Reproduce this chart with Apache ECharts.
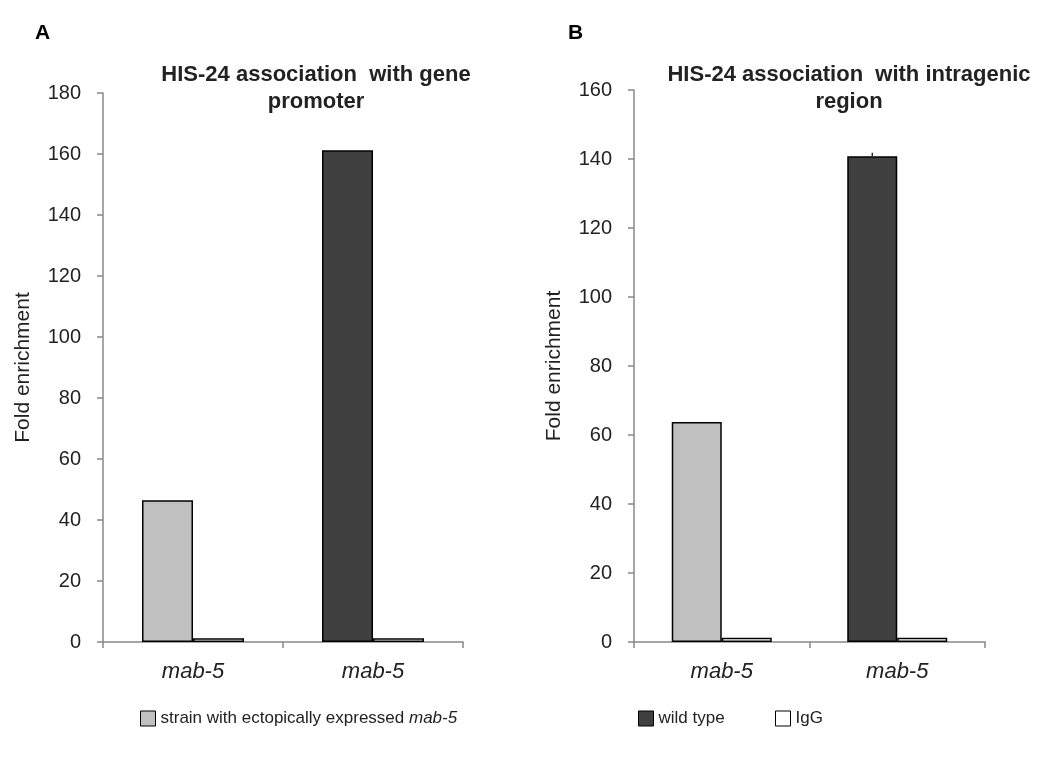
<!DOCTYPE html>
<html>
<head>
<meta charset="utf-8">
<script src="https://cdn.jsdelivr.net/npm/echarts@6/dist/echarts.min.js"></script>
<style>html,body{margin:0;padding:0;background:#fff}#c{width:1061px;height:758px}</style>
</head>
<body>
<div id="c"></div>
<script>
// ---- data ----
const categories = ['mab-5', 'mab-5'];
const seriesNames = ['strain with ectopically expressed mab-5', 'wild type', 'IgG'];
const ectopicA = [46.5, null];
const wildA = [null, 161.2];
const iggA = [1.2, 1.2];
const ectopicB = [63.8, null];
const wildB = [null, 140.8];
const iggB = [1.2, 1.2];
const wildErrB = [null, 1.0];
const yTicksA = {min: 0, max: 180, interval: 20};
const yTicksB = {min: 0, max: 160, interval: 20};

const FONT = '"Liberation Sans", Arial, sans-serif';
const colors = {ectopic: '#c0c0c0', wild: '#404040', igg: '#ffffff'};

function yAxis(grid, t) {
  return {
    type: 'value', gridIndex: grid, min: t.min, max: t.max, interval: t.interval,
    name: 'Fold enrichment', nameLocation: 'middle', nameGap: 69, nameRotate: 90,
    nameTextStyle: {fontFamily: FONT, fontSize: 21, color: '#222'},
    axisLine: {show: true, lineStyle: {color: '#888', width: 1.5}},
    axisTick: {show: true, inside: false, length: 6, lineStyle: {color: '#888', width: 1.5}},
    axisLabel: {fontFamily: FONT, fontSize: 20, color: '#222', margin: 22},
    splitLine: {show: false}
  };
}
function xAxis(grid) {
  return {
    type: 'category', gridIndex: grid, data: categories,
    axisLine: {show: true, lineStyle: {color: '#888', width: 1.5}},
    axisTick: {show: true, length: 6, lineStyle: {color: '#888', width: 1.5}},
    axisLabel: {fontFamily: FONT, fontSize: 22, fontStyle: 'italic', color: '#222', margin: 19}
  };
}
function bars(grid, ect, wild, igg, bw) {
  const base = {type: 'bar', xAxisIndex: grid, yAxisIndex: grid, barWidth: bw, barGap: '0%', animation: false};
  return [
    Object.assign({}, base, {name: seriesNames[0], stack: 's' + grid, data: ect,
      itemStyle: {color: colors.ectopic, borderColor: '#000', borderWidth: 1.5}}),
    Object.assign({}, base, {name: seriesNames[1], stack: 's' + grid, data: wild,
      itemStyle: {color: colors.wild, borderColor: '#000', borderWidth: 1.5}}),
    Object.assign({}, base, {name: seriesNames[2], data: igg,
      itemStyle: {color: colors.igg, borderColor: '#000', borderWidth: 1.5}})
  ];
}

const errData = wildB.map((v, i) => v == null ? null : [i, v, wildErrB[i]]).filter(d => d);

const legendText = {fontFamily: FONT, fontSize: 17, color: '#222',
  rich: {n: {fontFamily: FONT, fontSize: 17, color: '#222'}, i: {fontFamily: FONT, fontSize: 17, color: '#222', fontStyle: 'italic'}}};
function legend(name, left, color) {
  return {
    left: left, top: 705, itemWidth: 15, itemHeight: 15, icon: 'rect', selectedMode: false,
    data: [{name: name, itemStyle: {color: color, borderColor: '#000', borderWidth: 1}}],
    textStyle: legendText, itemGap: 3,
    formatter: n => n === seriesNames[0] ? '{n|strain with ectopically expressed }{i|mab-5}' : n
  };
}

const chart = echarts.init(document.getElementById('c'), null, {renderer: 'canvas'});
chart.setOption({
  animation: false,
  backgroundColor: '#fff',
  title: [
    {text: 'A', left: 30, top: 18, textStyle: {fontFamily: FONT, fontSize: 21, fontWeight: 'bold', color: '#000'}},
    {text: 'B', left: 563, top: 18, textStyle: {fontFamily: FONT, fontSize: 21, fontWeight: 'bold', color: '#000'}},
    {text: 'HIS-24 association  with gene\npromoter', left: 311, top: 56, textAlign: 'center',
      textStyle: {fontFamily: FONT, fontSize: 22, fontWeight: 'bold', color: '#222', lineHeight: 27}},
    {text: 'HIS-24 association  with intragenic\nregion', left: 844, top: 56, textAlign: 'center',
      textStyle: {fontFamily: FONT, fontSize: 22, fontWeight: 'bold', color: '#222', lineHeight: 27}}
  ],
  legend: [
    legend(seriesNames[0], 135, colors.ectopic),
    legend(seriesNames[1], 633, colors.wild),
    legend(seriesNames[2], 770, colors.igg)
  ],
  grid: [
    {left: 103, top: 93, width: 360, height: 549, containLabel: false},
    {left: 634, top: 90, width: 351, height: 552, containLabel: false}
  ],
  xAxis: [xAxis(0), xAxis(1)],
  yAxis: [yAxis(0, yTicksA), yAxis(1, yTicksB)],
  series: [
    ...bars(0, ectopicA, wildA, iggA, 51),
    ...bars(1, ectopicB, wildB, iggB, 50),
    {
      type: 'custom', name: 'errB', xAxisIndex: 1, yAxisIndex: 1, data: errData, z: 5,
      renderItem: function (params, api) {
        const x = api.value(0), v = api.value(1), e = api.value(2);
        const p0 = api.coord([x, v]);
        const p1 = api.coord([x, v + e]);
        const off = -25;
        return {type: 'line', shape: {x1: p0[0] + off, y1: p0[1], x2: p1[0] + off, y2: p1[1]},
          style: {stroke: '#000', lineWidth: 1.2}};
      }
    }
  ]
});
</script>
</body>
</html>
